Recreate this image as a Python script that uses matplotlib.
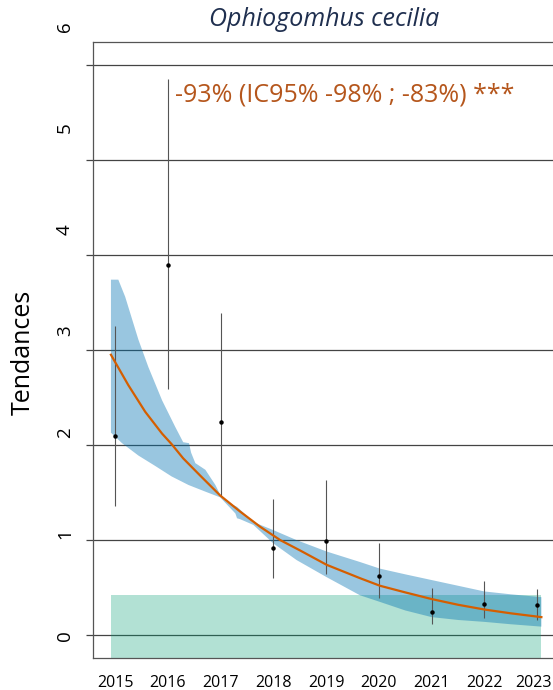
import matplotlib
matplotlib.use("Agg")
import matplotlib.pyplot as plt
import matplotlib.transforms as mtransforms

plt.rcParams['font.family'] = ['Open Sans', 'DejaVu Sans']

# yearly index values and their confidence bars
years = [2015, 2016, 2017, 2018, 2019, 2020, 2021, 2022, 2023]
index_vals = [2.10, 3.89, 2.24, 0.92, 0.99, 0.62, 0.24, 0.33, 0.32]
index_lo = [1.36, 2.59, 1.46, 0.60, 0.64, 0.39, 0.12, 0.18, 0.16]
index_hi = [3.25, 5.85, 3.39, 1.43, 1.63, 0.97, 0.50, 0.57, 0.49]

# fitted trend
trend_x = [2014.92, 2015.25, 2015.57, 2015.89, 2016.07, 2016.29, 2016.61, 2016.99,
           2017.37, 2017.75, 2018.13, 2018.51, 2019.01, 2019.64, 2020.02, 2020.5,
           2021.0, 2021.5, 2022.0, 2022.5, 2023.08]
trend_y = [2.95, 2.63, 2.35, 2.12, 2.01, 1.86, 1.68, 1.47,
           1.30, 1.14, 1.00, 0.89, 0.74, 0.60, 0.52, 0.45,
           0.38, 0.32, 0.27, 0.23, 0.19]

# confidence envelope of the trend
band_up_x = [2014.92, 2015.06, 2015.19, 2015.44, 2015.63, 2015.89, 2016.14, 2016.29,
             2016.40, 2016.44, 2016.52, 2016.71, 2016.90, 2016.99, 2017.12, 2017.31,
             2017.37, 2017.62, 2018.0, 2018.44, 2019.01, 2019.64, 2020.02, 2020.5,
             2021.0, 2021.5, 2022.0, 2022.5, 2023.08]
band_up_y = [3.74, 3.74, 3.56, 3.11, 2.82, 2.47, 2.19, 2.03,
             2.02, 1.92, 1.81, 1.74, 1.58, 1.48, 1.40, 1.35,
             1.32, 1.19, 1.105, 1.00, 0.88, 0.77, 0.70, 0.64,
             0.58, 0.52, 0.46, 0.43, 0.40]
band_lo_x = [2014.92, 2015.13, 2015.44, 2015.76, 2016.07, 2016.39, 2016.71, 2016.99,
             2017.28, 2017.31, 2017.37, 2017.62, 2018.0, 2018.44, 2019.01, 2019.64,
             2020.02, 2020.5, 2021.0, 2021.5, 2022.0, 2022.5, 2023.08]
band_lo_y = [2.13, 2.02, 1.89, 1.78, 1.67, 1.58, 1.51, 1.45,
             1.28, 1.23, 1.22, 1.16, 0.965, 0.79, 0.61, 0.42,
             0.35, 0.26, 0.19, 0.16, 0.14, 0.115, 0.09]

# green reference zone
zone_x = [2014.92, 2023.08]
zone_top = 0.42

y_ticks = [0, 1, 2, 3, 4, 5, 6]
label_step = 1.067  # the printed labels drift from the grid lines

title = "Ophiogomhus cecilia"
trend_text = "-93% (IC95% -98% ; -83%) ***"

fig = plt.figure(figsize=(5.53, 6.90), dpi=100)
ax = fig.add_axes([93 / 553, 32 / 690, 460 / 553, 616 / 690])
ax.set_xlim(2014.58, 2023.30)
ax.set_ylim(-0.24, 6.24)

ax.fill_between(zone_x, -0.5, zone_top, color='#009E73', alpha=0.3, lw=0, zorder=1)
ax.fill(band_up_x + band_lo_x[::-1], band_up_y + band_lo_y[::-1],
        color='#0072B2', alpha=0.4, lw=0, zorder=2)
ax.plot(trend_x, trend_y, color='#D55E00', lw=1.6, zorder=4)
ax.vlines(years, index_lo, index_hi, color='#555555', lw=0.8, zorder=3)
ax.plot(years, index_vals, 'o', color='black', ms=2.2, zorder=5)

# grid and axes
ax.set_yticks(y_ticks)
ax.set_yticklabels([])
ax.grid(axis='y', color='#444444', lw=0.9)
ax.set_axisbelow(True)
ax.tick_params(axis='y', length=5, color='#444444', width=0.9)

ax.set_xticks(years)
ax.set_xticklabels([str(y) for y in years], fontsize=11.5)
ax.set_xticks([2016, 2018, 2020, 2022], minor=True)
ax.tick_params(axis='x', which='major', length=0, pad=12)
ax.tick_params(axis='x', which='minor', length=3, color='#444444')
# last label is pushed in a little so it stays inside the picture
last = ax.get_xticklabels()[-1]
last.set_transform(last.get_transform() +
                   mtransforms.ScaledTranslation(-4 / 100, 0, fig.dpi_scale_trans))

for side in ['left', 'bottom', 'top']:
    ax.spines[side].set_color('#555555')
    ax.spines[side].set_linewidth(0.9)
ax.spines['right'].set_visible(False)

trans = mtransforms.blended_transform_factory(ax.transAxes, ax.transData)
for k in y_ticks:
    ax.text(-0.061, k * label_step, str(k), transform=trans, rotation=90,
            ha='center', va='center', fontsize=13.5, clip_on=False)

ax.text(2016.13, 5.68, trend_text, color='#B5561C', fontsize=18,
        ha='left', va='center')

fig.text(324 / 553, 1 - 20 / 690, title, fontsize=18, style='italic',
         color='#1F2F4F', ha='center', va='center')
fig.text(23 / 553, 1 - 352 / 690, "Tendances", fontsize=18, rotation=90,
         ha='center', va='center')

fig.savefig("out.png", dpi=100)
